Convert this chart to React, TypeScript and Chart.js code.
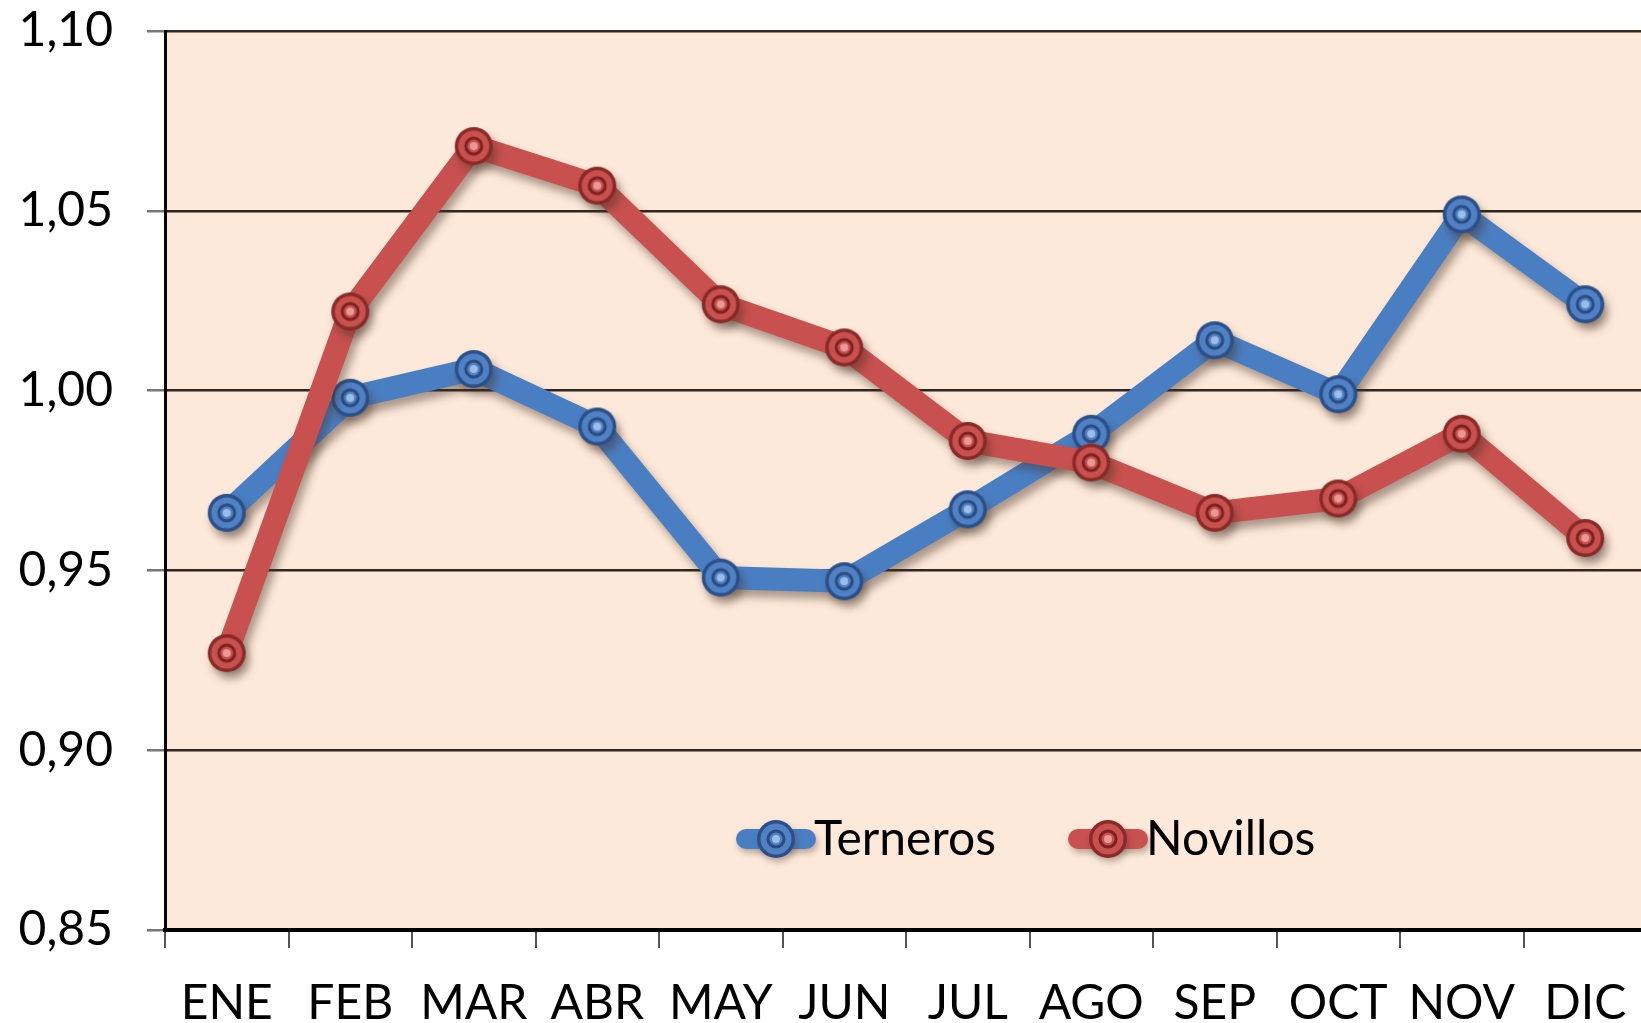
import React, { useEffect, useRef } from "react";
import { Chart, registerables } from "chart.js";

Chart.register(...registerables);

const months = ["ENE", "FEB", "MAR", "ABR", "MAY", "JUN", "JUL", "AGO", "SEP", "OCT", "NOV", "DIC"];
const terneros = [0.966, 0.998, 1.006, 0.990, 0.948, 0.947, 0.967, 0.988, 1.014, 0.999, 1.049, 1.024];
const novillos = [0.927, 1.022, 1.068, 1.057, 1.024, 1.012, 0.986, 0.980, 0.966, 0.970, 0.988, 0.959];
const yMin = 0.85;
const yMax = 1.10;
const yStep = 0.05;
const seriesNames = ["Terneros", "Novillos"];

const FONT = "Lato, 'Open Sans', sans-serif";
const CANVAS_W = 1647;
const CANVAS_H = 1023;

function makeMarker(fill: string, ring: string, inner: string, center: string) {
  const size = 42;
  const c = document.createElement("canvas");
  c.width = size;
  c.height = size;
  const g = c.getContext("2d")!;
  const m = size / 2;
  g.beginPath();
  g.arc(m, m, 19, 0, Math.PI * 2);
  g.fillStyle = ring;
  g.fill();
  g.beginPath();
  g.arc(m, m, 15.5, 0, Math.PI * 2);
  g.fillStyle = fill;
  g.fill();
  g.beginPath();
  g.arc(m, m, 8, 0, Math.PI * 2);
  g.lineWidth = 3;
  g.strokeStyle = inner;
  g.stroke();
  g.beginPath();
  g.arc(m, m, 4, 0, Math.PI * 2);
  g.fillStyle = center;
  g.fill();
  return c;
}

export default function App() {
  const ref = useRef<HTMLCanvasElement | null>(null);

  useEffect(() => {
    const canvas = ref.current!;
    const blueMarker = makeMarker("#4f81c4", "#2b5089", "#2a4c80", "#9cbde6");
    const redMarker = makeMarker("#c8504e", "#8a2a28", "#7c2221", "#e89896");
    const markers = [blueMarker, redMarker];
    const colors = ["#4a7ec2", "#c8504e"];

    const bgPlugin = {
      id: "bgPlugin",
      beforeDraw(chart: any) {
        const { ctx, chartArea } = chart;
        ctx.save();
        ctx.fillStyle = "#fde9d9";
        ctx.fillRect(chartArea.left, chartArea.top, chartArea.right - chartArea.left, chartArea.bottom - chartArea.top);
        ctx.restore();
      },
    };

    const shadowPlugin = {
      id: "shadowPlugin",
      beforeDatasetDraw(chart: any) {
        const ctx = chart.ctx;
        ctx.save();
        ctx.shadowColor = "rgba(70,50,40,0.45)";
        ctx.shadowBlur = 8;
        ctx.shadowOffsetX = 4;
        ctx.shadowOffsetY = 7;
      },
      afterDatasetDraw(chart: any) {
        chart.ctx.restore();
      },
    };

    const legendPlugin = {
      id: "insideLegend",
      afterDraw(chart: any) {
        const { ctx, chartArea } = chart;
        const y = chartArea.bottom - 91;
        const starts = [chartArea.left + 573, chartArea.left + 905];
        ctx.save();
        chart.data.datasets.forEach((ds: any, i: number) => {
          const x0 = starts[i];
          const x1 = x0 + 76;
          ctx.save();
          ctx.shadowColor = "rgba(70,50,40,0.35)";
          ctx.shadowBlur = 6;
          ctx.shadowOffsetX = 2;
          ctx.shadowOffsetY = 4;
          ctx.strokeStyle = ds.borderColor;
          ctx.lineWidth = 20;
          ctx.beginPath();
          ctx.moveTo(x0 + 8, y);
          ctx.lineTo(x1 - 8, y);
          ctx.lineCap = "round";
          ctx.stroke();
          const img = ds.pointStyle;
          ctx.drawImage(img, (x0 + x1) / 2 - img.width / 2, y - img.height / 2);
          ctx.restore();
          ctx.fillStyle = "#000";
          ctx.font = `48px ${FONT}`;
          ctx.textBaseline = "middle";
          ctx.textAlign = "left";
          ctx.fillText(ds.label, x1, y + 1);
        });
        ctx.restore();
      },
    };

    const chart = new Chart(canvas, {
      type: "line",
      data: {
        labels: months,
        datasets: [
          {
            label: seriesNames[0],
            data: terneros,
            borderColor: colors[0],
            backgroundColor: colors[0],
            borderWidth: 23,
            pointStyle: markers[0] as any,
            pointRadius: 19,
            tension: 0,
            order: 1,
            borderJoinStyle: "round",
            borderCapStyle: "round",
          },
          {
            label: seriesNames[1],
            data: novillos,
            borderColor: colors[1],
            backgroundColor: colors[1],
            borderWidth: 23,
            pointStyle: markers[1] as any,
            pointRadius: 19,
            tension: 0,
            order: 0,
            borderJoinStyle: "round",
            borderCapStyle: "round",
          },
        ] as any,
      },
      options: {
        animation: false,
        responsive: false,
        maintainAspectRatio: false,
        layout: { autoPadding: false, padding: { top: 31, left: 0, right: 0, bottom: 0 } },
        plugins: {
          legend: { display: false },
          tooltip: { enabled: false },
        },
        scales: {
          x: {
            offset: true,
            grid: {
              offset: true,
              drawOnChartArea: false,
              drawTicks: true,
              tickLength: 18,
              tickColor: "#555",
              lineWidth: 2,
            },
            border: { display: true, color: "#000", width: 4 },
            ticks: {
              color: "#000",
              font: { family: FONT, size: 48 },
              padding: 27,
              maxRotation: 0,
              autoSkip: false,
            },
            afterFit: (s: any) => {
              s.height = 93;
              s.paddingLeft = 0;
              s.paddingRight = 0;
            },
          },
          y: {
            min: yMin,
            max: yMax,
            grid: {
              color: "#2e2620",
              lineWidth: 2.5,
              tickLength: 18,
              tickColor: "#777",
            },
            border: { display: true, color: "#000", width: 3 },
            ticks: {
              stepSize: yStep,
              color: "#000",
              font: { family: FONT, size: 48 },
              padding: 34,
              callback: (v: any) => Number(v).toFixed(2).replace(".", ","),
            },
            afterFit: (s: any) => {
              s.width = 165;
              s.paddingTop = 0;
              s.paddingBottom = 0;
            },
          },
        },
      },
      plugins: [bgPlugin, shadowPlugin, legendPlugin],
    });

    return () => chart.destroy();
  }, []);

  return (
    <div style={{ position: "fixed", left: 0, top: 0, width: "100vw", height: "100vh", overflow: "hidden", background: "#fff" }}>
      <div style={{ width: CANVAS_W, height: CANVAS_H }}>
        <canvas ref={ref} width={CANVAS_W} height={CANVAS_H} style={{ display: "block" }} />
      </div>
    </div>
  );
}
